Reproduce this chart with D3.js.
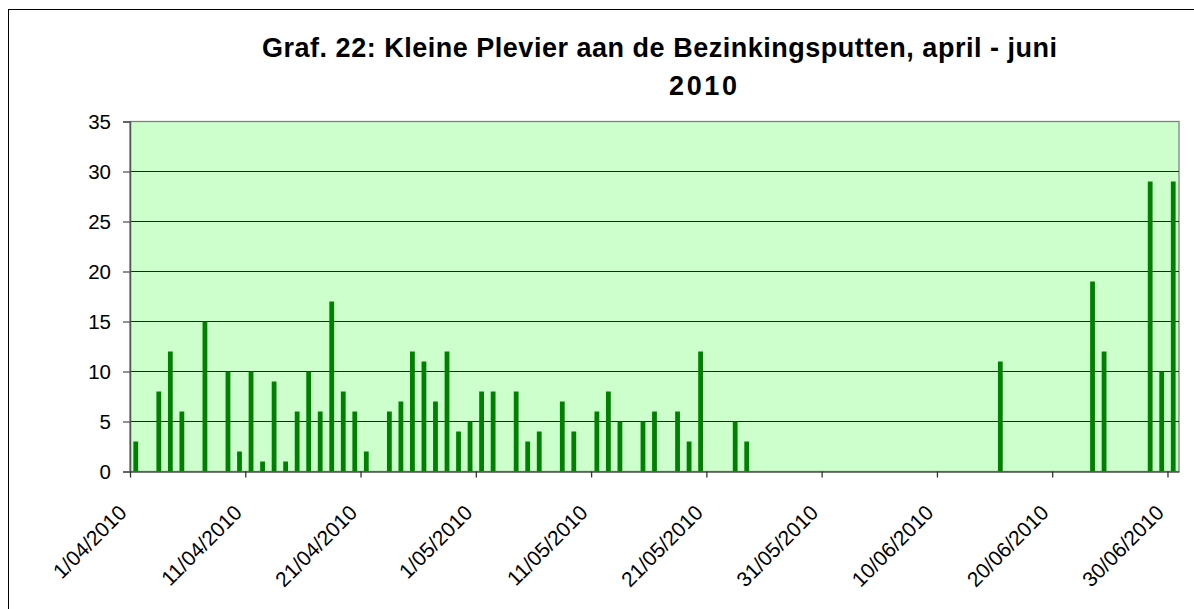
<!DOCTYPE html>
<html>
<head>
<meta charset="utf-8">
<script src="https://cdn.jsdelivr.net/npm/d3@7"></script>
<style>
  body { margin: 0; background: #fff; }
  svg text { font-family: Arial, "Liberation Sans", sans-serif; }
</style>
</head>
<body>
<svg id="chart" width="1194" height="609"></svg>
<script>
// counted days (days with no count are left out)
var dates = ["1/04/2010","3/04/2010","4/04/2010","5/04/2010","7/04/2010","9/04/2010","10/04/2010",
  "11/04/2010","12/04/2010","13/04/2010","14/04/2010","15/04/2010","16/04/2010","17/04/2010",
  "18/04/2010","19/04/2010","20/04/2010","21/04/2010","23/04/2010","24/04/2010","25/04/2010",
  "26/04/2010","27/04/2010","28/04/2010","29/04/2010","30/04/2010","1/05/2010","2/05/2010",
  "4/05/2010","5/05/2010","6/05/2010","8/05/2010","9/05/2010","11/05/2010","12/05/2010",
  "13/05/2010","15/05/2010","16/05/2010","18/05/2010","19/05/2010","20/05/2010","23/05/2010",
  "24/05/2010","15/06/2010","23/06/2010","24/06/2010","28/06/2010","29/06/2010","30/06/2010"];
var counts = [3,8,12,6,15,10,2,
  10,1,9,1,6,10,6,
  17,8,6,2,6,7,12,
  11,7,12,4,5,8,8,
  8,3,4,7,4,6,8,
  5,5,6,6,3,12,5,
  3,11,19,12,29,10,29];
var yTicks = [0,5,10,15,20,25,30,35];
var titleLines = ["Graf. 22: Kleine Plevier aan de Bezinkingsputten, april - juni", "2010"];

(function(){

var parse = d3.timeParse("%d/%m/%Y");
var fmt = d3.timeFormat("%-d/%m/%Y");
var data = dates.map(function(d, i){ return {date: parse(d), n: counts[i]}; });

var svg = d3.select("#chart");
var pLeft = 130, pRight = 1179, pTop = 121.5, pBottom = 471.5;

// outer frame (runs off the picture at right and bottom)
svg.append("rect")
  .attr("x", 8.5).attr("y", 9.5)
  .attr("width", 1300).attr("height", 700)
  .attr("fill", "#fff").attr("stroke", "#000").attr("stroke-width", 1);

var x = d3.scaleTime()
  .domain([parse("1/04/2010"), parse("1/07/2010")])
  .range([pLeft, pRight]);
var y = d3.scaleLinear().domain([0, 35]).range([pBottom, pTop]);

var slot = x(parse("2/04/2010")) - x(parse("1/04/2010"));
var barW = 4.8;

// plot area
svg.append("rect")
  .attr("x", pLeft).attr("y", pTop)
  .attr("width", pRight - pLeft).attr("height", pBottom - pTop)
  .attr("fill", "#ccffcc").attr("stroke", "#808080").attr("stroke-width", 1.3);

// gridlines
svg.append("g").selectAll("line")
  .data(yTicks.filter(function(t){ return t > 0 && t < 35; }))
  .enter().append("line")
  .attr("x1", pLeft).attr("x2", pRight)
  .attr("y1", function(d){ return y(d); }).attr("y2", function(d){ return y(d); })
  .attr("stroke", "#222").attr("stroke-width", 1.2);

// bars
svg.append("g").selectAll("rect")
  .data(data)
  .enter().append("rect")
  .attr("x", function(d){ return x(d.date) + (slot - barW) / 2; })
  .attr("width", barW)
  .attr("y", function(d){ return y(d.n); })
  .attr("height", function(d){ return pBottom - y(d.n); })
  .attr("fill", "#008000");

// y axis
var yAxis = svg.append("g")
  .attr("transform", "translate(" + pLeft + ",0)")
  .call(d3.axisLeft(y).tickValues(yTicks).tickSize(7).tickPadding(12));
yAxis.select(".domain").attr("stroke", "#555").attr("stroke-width", 1.5);
yAxis.selectAll(".tick line").attr("stroke", "#555").attr("stroke-width", 1.3);
yAxis.selectAll("text").attr("font-size", 20.5).attr("fill", "#000")
  .attr("font-family", "Arial, 'Liberation Sans', sans-serif");

// x axis
var xTicks = d3.range(0, 10).map(function(i){ return d3.timeDay.offset(parse("1/04/2010"), i * 10); });
var xAxis = svg.append("g")
  .attr("transform", "translate(0," + pBottom + ")")
  .call(d3.axisBottom(x).tickValues(xTicks).tickFormat(fmt).tickSize(6).tickSizeOuter(0));
xAxis.select(".domain").attr("stroke", "#555").attr("stroke-width", 1.5);
xAxis.selectAll(".tick line").attr("stroke", "#333").attr("stroke-width", 1.3);
xAxis.selectAll("text")
  .attr("font-size", 21).attr("fill", "#000")
  .attr("font-family", "Arial, 'Liberation Sans', sans-serif")
  .attr("text-anchor", "end")
  .attr("dy", "0.7em")
  .attr("transform", "translate(-13,32) rotate(-45)")
  .attr("y", 0).attr("x", 0);

// title
svg.append("text")
  .attr("x", 262).attr("y", 57)
  .attr("font-size", 27).attr("font-weight", "bold")
  .attr("textLength", 795).attr("lengthAdjust", "spacing")
  .text(titleLines[0]);
svg.append("text")
  .attr("x", 669).attr("y", 95)
  .attr("font-size", 27).attr("font-weight", "bold")
  .attr("textLength", 68).attr("lengthAdjust", "spacing")
  .text(titleLines[1]);

})();
</script>
</body>
</html>
